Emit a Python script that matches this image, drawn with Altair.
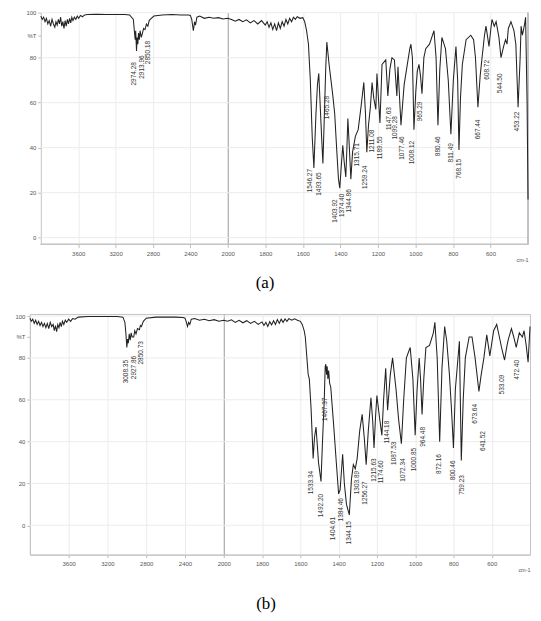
import altair as alt
import pandas as pd

# ---------------- Panel (a) spectrum: wavenumber (cm-1) and transmittance (%T)
a_wn = [4000, 3985, 3970, 3955, 3940, 3925, 3910, 3895, 3880, 3865, 3850, 3838, 3825, 3812, 3800,
        3788, 3776, 3764, 3752, 3740, 3728, 3716, 3704, 3692, 3680, 3668, 3656, 3640, 3625, 3610,
        3595, 3575, 3555, 3530, 3500, 3400, 3300, 3100, 3050, 3010, 2995, 2990, 2985, 2976, 2970,
        2962, 2955, 2946, 2938, 2925, 2912, 2900, 2885, 2870, 2855, 2840, 2830, 2790, 2700, 2600,
        2500, 2420, 2400, 2385, 2368, 2355, 2345, 2330, 2300, 2250, 2200, 2150, 2100, 2050, 2000,
        1980, 1960, 1940, 1920, 1900, 1880, 1860, 1840, 1820, 1800, 1790, 1780, 1770, 1760, 1750,
        1740, 1730, 1720, 1710, 1700, 1690, 1680, 1670, 1660, 1650, 1640, 1630, 1615, 1600, 1590,
        1580, 1570, 1560, 1550, 1541, 1530, 1522, 1515, 1508, 1500, 1493, 1485, 1478, 1472, 1466,
        1460, 1450, 1440, 1430, 1420, 1410, 1403, 1395, 1387, 1380, 1371, 1365, 1360, 1352, 1344,
        1335, 1320, 1305, 1290, 1275, 1266, 1259, 1250, 1240, 1231, 1222, 1211, 1205, 1197, 1189,
        1178, 1158, 1147, 1136, 1125, 1112, 1099, 1093, 1077, 1060, 1045, 1030, 1024, 1016, 1008,
        998, 990, 981, 973, 965, 955, 945, 925, 901, 890, 880, 870, 859, 840, 825,
        811, 798, 784, 775, 768, 760, 750, 730, 705, 690, 680, 667, 655, 645, 632,
        624, 615, 608, 598, 592, 580, 570, 555, 544, 530, 520, 512, 505, 491, 475,
        465, 453, 442, 437, 430, 425, 418, 413, 405, 400]
a_t = [98.5, 97, 98, 96, 97.5, 95, 96.5, 94, 97, 95, 93.5, 96, 94.5, 97, 95,
       98, 94, 96, 93, 96.5, 94, 97, 95, 97.5, 95.5, 98, 96.5, 98, 97, 98.5,
       97.5, 98.8, 98.2, 99, 99.2, 99.3, 99.2, 99.2, 99, 97, 90, 88, 92, 83, 89,
       86, 91, 88, 92, 89, 91, 93, 92.5, 95, 94, 96.5, 97, 98.5, 99, 99.2,
       99, 99, 98.8, 97, 92, 96, 94.5, 98, 98.5, 97.5, 98, 97.5, 97.8, 97.2, 97.5,
       97, 96.2, 97, 96, 96.8, 95.5, 96.5, 95, 96.5, 94.5, 96, 93.5, 95.5, 92.5, 95,
       92, 95.5, 93, 96, 94, 97, 95, 97.5, 96, 98, 97, 98.2, 97.5, 97.8, 96,
       92, 86, 70, 45, 31, 55, 68, 73, 60, 45, 33, 55, 75, 87, 82,
       77, 70, 63, 55, 40, 26, 22, 32, 41, 34, 27, 40, 53, 40, 26,
       38, 45, 48, 58, 69, 55, 38, 50, 58, 69, 62, 57, 73, 62, 51,
       77, 79, 63, 75, 80, 79, 63, 76, 50, 68, 76, 84, 86, 80, 48,
       65, 74, 77, 72, 64, 80, 84, 86, 92, 80, 50, 75, 89, 84, 70,
       46, 70, 85, 70, 39, 62, 77, 88, 90, 88, 80, 58, 72, 80, 90,
       94, 89, 85, 93, 97, 94, 96, 89, 80, 85, 88, 86, 93, 96, 92,
       86, 58, 80, 94, 90, 92, 95, 98, 60, 17]

a_lab_wn = [3008, 2912, 2848, 1563, 1515, 1472, 1429, 1392, 1355, 1312, 1269, 1232, 1189,
            1141, 1109, 1072, 1019, 976, 880, 811, 768, 667, 619, 549, 459]
a_lab_t = [78, 81, 87.5, 30.5, 29, 63, 17, 19.5, 21.5, 42, 32, 48, 45,
           58, 54, 45, 43, 60.5, 45, 42, 35, 52.5, 79, 73, 56]
a_lab_txt = ["2974.28", "2913.96", "2850.18", "1546.27", "1493.65", "1465.28", "1403.92",
             "1374.40", "1344.86", "1315.71", "1259.24", "1211.08", "1189.55", "1147.63",
             "1099.28", "1077.46", "1008.12", "965.29", "880.46", "811.49", "768.15",
             "667.44", "608.72", "544.50", "453.22"]

# ---------------- Panel (b) spectrum
b_wn = [4000, 3985, 3970, 3955, 3940, 3925, 3910, 3895, 3880, 3865, 3850, 3835, 3820, 3805, 3790,
        3775, 3760, 3748, 3736, 3724, 3712, 3700, 3688, 3676, 3664, 3650, 3635, 3620, 3600, 3580,
        3560, 3535, 3500, 3400, 3100, 3040, 3020, 3010, 3000, 2992, 2985, 2975, 2965, 2955, 2945,
        2929, 2918, 2905, 2890, 2870, 2860, 2849, 2830, 2800, 2700, 2500, 2420, 2400, 2388, 2374,
        2362, 2350, 2335, 2300, 2250, 2200, 2150, 2100, 2050, 2000,
        1980, 1960, 1940, 1920, 1900, 1880, 1860, 1840, 1820, 1800, 1790, 1780, 1770, 1760, 1750,
        1740, 1730, 1720, 1710, 1700, 1690, 1680, 1670, 1660, 1645, 1630, 1615, 1600, 1590, 1580,
        1574, 1559, 1553, 1544, 1533, 1526, 1518, 1505, 1492, 1485, 1475, 1470, 1467, 1463, 1460,
        1456, 1452, 1447, 1441, 1426, 1412, 1400, 1392, 1379, 1370, 1359, 1344, 1333, 1323, 1313,
        1303, 1290, 1277, 1266, 1256, 1245, 1231, 1222, 1215, 1207, 1200, 1187, 1174, 1165, 1154,
        1144, 1130, 1118, 1100, 1087, 1072, 1060, 1046, 1030, 1026, 1012, 1000, 990, 979, 972,
        964, 955, 944, 925, 905, 897, 885, 872, 860, 846, 835, 821, 810, 800, 790,
        769, 759, 749, 738, 718, 703, 687, 667, 655, 641, 626, 610, 590, 574, 560,
        549, 533, 520, 513, 497, 485, 472, 456, 440, 431, 420, 410, 400]
b_t = [99, 97.5, 98.5, 96.5, 98, 96, 97.5, 95.5, 97, 95, 96.5, 94.5, 96.5, 94, 97,
       95, 96, 93, 95.5, 92.5, 96, 94.5, 97, 95, 97.5, 96, 98, 97, 98.5, 97.5,
       98.8, 98.5, 99.5, 99.8, 99.8, 99.5, 97, 92, 85, 89, 87, 91.5, 88.5, 92, 90,
       90, 93, 91.5, 94, 93.5, 95.5, 95, 97.5, 99, 99.5, 99.5, 99.3, 99, 97.5, 95,
       97, 96, 98.5, 98.8, 98, 98.5, 97.8, 98.3, 97.5, 98,
       97.5, 98.2, 97, 98, 96.8, 97.8, 96.5, 97.5, 96, 97.2, 95.5, 97, 95, 97.3, 95.8,
       97.8, 96, 98.3, 96.5, 98.5, 97, 98.6, 97.5, 98.8, 98, 98.7, 98, 97.5, 96, 93,
       90, 72, 70, 56, 32, 42, 47, 30, 21, 38, 60, 76, 77, 72, 76,
       70, 74, 68, 66, 48, 30, 15, 17, 34, 20, 10, 5, 22, 29, 27,
       32, 45, 53, 42, 29, 45, 61, 50, 37, 52, 62, 52, 43, 60, 75,
       55, 72, 80, 65, 51, 39, 60, 80, 84, 85, 70, 43, 65, 80, 70,
       53, 70, 85, 86, 92, 97, 80, 40, 75, 95, 88, 72, 55, 37, 65,
       88, 31, 60, 80, 90, 90, 80, 64, 72, 80, 91, 81, 93, 96, 90,
       85, 79, 86, 89, 94, 90, 85, 92, 90, 93, 86, 78, 95]

b_lab_wn = [3010, 2929, 2849, 1544, 1492, 1472, 1431, 1390, 1344, 1303, 1262, 1215, 1179,
            1149, 1108, 1062, 1005, 959, 877, 800, 754, 687, 646, 544, 467]
b_lab_t = [79, 81, 88, 26, 15, 61, 4, 13, 2, 26, 21, 32, 31,
           50, 40, 32, 37, 47, 34, 31, 24, 58, 45, 72, 79]
b_lab_txt = ["3008.35", "2927.86", "2850.73", "1533.34", "1492.20", "1467.37", "1404.61",
             "1384.46", "1344.15", "1303.89", "1256.27", "1215.63", "1174.60", "1144.18",
             "1087.53", "1072.34", "1000.85", "964.48", "872.16", "800.46", "759.23",
             "673.64", "641.52", "533.09", "472.40"]

x_ticks = [3600, 3200, 2800, 2400, 2000, 1800, 1600, 1400, 1200, 1000, 800, 600]
y_ticks = [0, 20, 40, 60, 80, 90, 100]
y_grid = [0, 20, 40, 60, 80, 100]

FONT = "Liberation Sans"
GRID = "#ececec"
EDGE = "#c4c4c4"


def panel(wn, t, lwn, lt, ltxt, width, height, xr, ydom, caption, inset, cap_offset):
    df = pd.DataFrame({"wn": wn, "t": t, "idx": list(range(len(wn)))})
    lab = pd.DataFrame({"wn": lwn, "t": lt, "txt": ltxt})
    grid = pd.DataFrame({"v": y_grid})
    xs = alt.Scale(domain=[4000, 2000, 400], range=xr, nice=False, zero=False)
    ys = alt.Scale(domain=ydom, nice=False, zero=False)
    xa = alt.Axis(values=x_ticks, format="d", title="cm-1", titleAnchor="end", titleAlign="right",
                  titleFontSize=5.5, titleFontWeight="normal", titleColor="#555", titlePadding=1,
                  labelFontSize=6, labelColor="#555", labelFont=FONT, titleFont=FONT,
                  labelOverlap=False, tickSize=3, tickColor="#bbb", domain=inset == 0,
                  domainColor=EDGE, labelPadding=3, grid=True,
                  gridColor={"condition": {"test": "datum.value == 2000", "value": "#9a9a9a"},
                             "value": GRID})
    ya = alt.Axis(values=y_ticks, title=None, labelFontSize=6, labelColor="#555", labelFont=FONT,
                  labelExpr="datum.value == 90 ? '%T' : datum.label", labelOverlap=False,
                  tickSize=3, tickColor="#bbb", domainColor=EDGE, labelPadding=2,
                  minExtent=21, maxExtent=21, offset=-inset, grid=False)
    X = alt.X("wn:Q", scale=xs, axis=xa)
    Y = alt.Y("t:Q", scale=ys, axis=ya)
    hgrid = alt.Chart(grid).mark_rule(color=GRID, strokeWidth=1).encode(
        y=alt.Y("v:Q", scale=ys, axis=ya),
        x=alt.X(datum=4000, scale=xs, axis=xa),
        x2=alt.X2(datum=400),
    )
    layers = [hgrid]
    if inset:
        bottom = alt.Chart(grid).mark_rule(color=EDGE, strokeWidth=1).encode(
            y=alt.Y(datum=ydom[0], scale=ys, axis=ya),
            x=alt.X(datum=4000, scale=xs, axis=xa),
            x2=alt.X2(datum=400),
        )
        right = alt.Chart(grid).mark_rule(color=EDGE, strokeWidth=1).encode(
            x=alt.X(datum=400, scale=xs, axis=xa),
            y=alt.Y(datum=ydom[0], scale=ys, axis=ya),
            y2=alt.Y2(datum=ydom[1]),
        )
        layers += [bottom, right]
    line = alt.Chart(df).mark_line(color="#222", strokeWidth=1.05).encode(
        x=X, y=Y, order=alt.Order("idx:Q"),
    )
    text = alt.Chart(lab).mark_text(angle=270, align="right", baseline="middle", fontSize=6.5,
                                    font=FONT, color="#333").encode(
        x=X, y=Y, text="txt:N",
    )
    layers += [line, text]
    view = alt.ViewBackground(strokeOpacity=0) if inset else alt.ViewBackground(stroke=EDGE)
    return alt.layer(*layers).properties(
        width=width, height=height, view=view,
        title=alt.TitleParams(caption, orient="bottom", anchor="middle", font="Liberation Serif",
                              fontSize=17, fontWeight="normal", color="#000", dx=-14,
                              offset=cap_offset),
    )


pa = panel(a_wn, a_t, a_lab_wn, a_lab_t, a_lab_txt, 501, 233, [11, 199, 501], [-3, 100],
           "(a)", 11, 12)
pb = panel(b_wn, b_t, b_lab_wn, b_lab_t, b_lab_txt, 503, 242, [0, 195, 503], [-14, 101],
           "(b)", 0, 23)

chart = alt.vconcat(pa, pb, spacing=21).properties(
    padding={"left": 0, "top": 0, "right": 0, "bottom": 0}
)

chart.save("out.html", embed_options={"renderer": "svg", "actions": False})
